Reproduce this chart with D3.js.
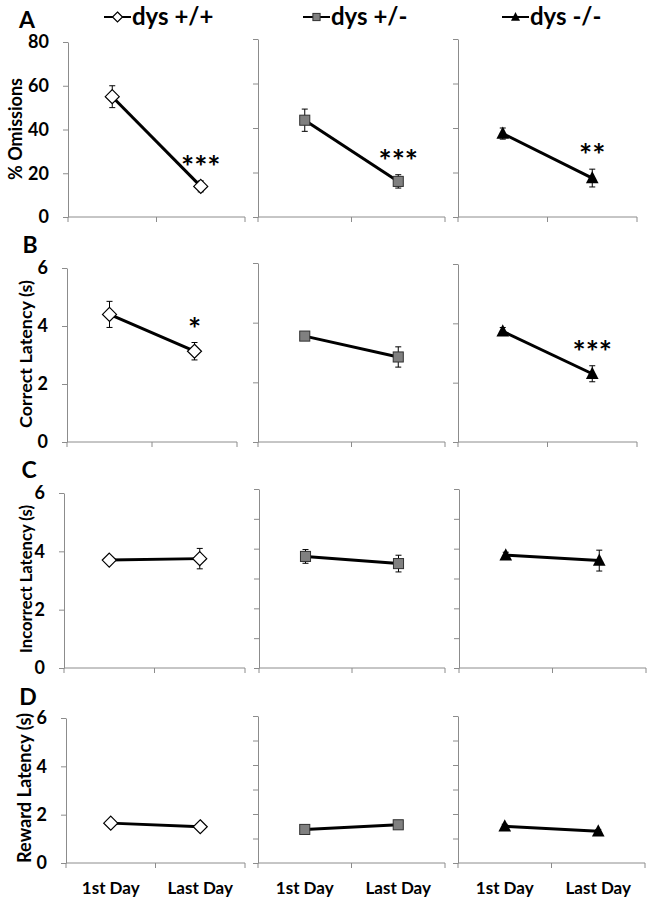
<!DOCTYPE html>
<html lang="en">
<head>
<meta charset="UTF-8">
<title>dys</title>
<script src="https://cdnjs.cloudflare.com/ajax/libs/d3/7.8.5/d3.min.js"></script>
<style>
    body { margin: 0; background: #fff; }
    svg text { font-family: Lato, "Open Sans", sans-serif; font-weight: bold; fill: #000; }
    .axis path, .axis line { stroke: #8c8c8c; stroke-width: 1; }
</style>
</head>
<body>
<div class="container"></div>
<script>
    const days = ['1st Day', 'Last Day'];
    const genotypes = ['dys +/+', 'dys +/-', 'dys -/-'];

    // means / SEM per genotype: [1st Day, Last Day]
    const omissionsMean = [[55, 14], [43.5, 16], [37.5, 17.5]];
    const omissionsErr = [[5, 2.5], [5, 3], [2.5, 4]];
    const correctMean = [[4.4, 3.13], [3.55, 2.85], [3.73, 2.3]];
    const correctErr = [[0.45, 0.3], [0.08, 0.34], [0.13, 0.27]];
    const incorrectMean = [[3.7, 3.75], [3.74, 3.5], [3.78, 3.6]];
    const incorrectErr = [[0.08, 0.35], [0.23, 0.28], [0.1, 0.35]];
    const rewardMean = [[1.65, 1.5], [1.37, 1.56], [1.5, 1.3]];
    const rewardErr = [[0.05, 0.05], [0.05, 0.05], [0.08, 0.07]];

    const sigOmissions = ['***', '***', '**'];
    const sigCorrect = ['*', '', '***'];

    const omissionTicks = [0, 20, 40, 60, 80];
    const latencyTicks = [0, 2, 4, 6];
    const latencyMinor = [0, 1, 2, 3, 4, 5, 6];

    const svg = d3.select('.container')
        .append('svg')
        .attr('width', 654)
        .attr('height', 906);

    // layout of the four stacked Excel charts
    const rows = [
        {mean: omissionsMean, err: omissionsErr, max: 80, labels: omissionTicks, minor: omissionTicks,
            title: '% Omissions', letter: 'A', sig: sigOmissions, bottom: 217,
            titleX: 15, titleY: 129, titleLen: 102, letterX: 27, letterY: 28,
            panels: [[68, 245, 42], [258, 445, 39], [458, 637, 39]]},
        {mean: correctMean, err: correctErr, max: 6, labels: latencyTicks, minor: latencyTicks,
            title: 'Correct Latency (s)', letter: 'B', sig: sigCorrect, bottom: 442,
            titleX: 25, titleY: 354, titleLen: 148, letterX: 30, letterY: 253,
            panels: [[67, 237, 268], [258, 445, 263], [458, 637, 264]]},
        {mean: incorrectMean, err: incorrectErr, max: 6, labels: latencyTicks, minor: latencyMinor,
            title: 'Incorrect Latency (s)', letter: 'C', sig: null, bottom: 668,
            titleX: 26, titleY: 579, titleLen: 148, letterX: 29, letterY: 478,
            panels: [[64, 245, 493], [259, 445, 489], [459, 646, 489]]},
        {mean: rewardMean, err: rewardErr, max: 6, labels: latencyTicks, minor: latencyMinor,
            title: 'Reward Latency (s)', letter: 'D', sig: null, bottom: 863,
            titleX: 24, titleY: 788, titleLen: 150, letterX: 28, letterY: 705,
            panels: [[66, 245, 718], [258, 445, 716], [458, 645, 716]]}
    ];

    function drawMarker(g, type, s) {
        if (type === 0) {
            g.append('path')
                .attr('d', `M0,${-s}L${s},0L0,${s}L${-s},0Z`)
                .attr('fill', '#fff')
                .attr('stroke', '#000')
                .attr('stroke-width', 1.2);
        } else if (type === 1) {
            g.append('rect')
                .attr('x', -s * 0.72).attr('y', -s * 0.72)
                .attr('width', s * 1.44).attr('height', s * 1.44)
                .attr('fill', '#808080')
                .attr('stroke', '#303030')
                .attr('stroke-width', 1);
        } else {
            g.append('path')
                .attr('d', `M0,${-s}L${s * 0.9},${s * 0.75}L${-s * 0.9},${s * 0.75}Z`)
                .attr('fill', '#000');
        }
    }

    rows.forEach(row => {
        svg.append('text')
            .attr('x', row.letterX)
            .attr('y', row.letterY)
            .attr('text-anchor', 'middle')
            .attr('font-size', 23)
            .text(row.letter);

        // size the rotated title so it spans the same length as in the figure
        const title = svg.append('text')
            .attr('transform', `translate(${row.titleX},${row.titleY}) rotate(-90)`)
            .attr('text-anchor', 'middle')
            .attr('dominant-baseline', 'central')
            .attr('font-size', 16)
            .text(row.title);
        const len = title.node().getComputedTextLength();
        title.attr('font-size', 16 * row.titleLen / len);

        row.panels.forEach((p, gi) => {
            const [x0, x1, top] = p;
            const y = d3.scaleLinear().domain([0, row.max]).range([row.bottom, top]);
            const x = d3.scaleBand().domain(days).range([x0, x1]);
            const g = svg.append('g');

            const yAxis = d3.axisLeft(y)
                .tickValues(gi === 0 ? row.labels : row.minor)
                .tickSize(5)
                .tickSizeOuter(0)
                .tickPadding(14)
                .tickFormat(gi === 0 ? d3.format('d') : '');
            const ya = g.append('g')
                .attr('class', 'axis')
                .attr('transform', `translate(${x0},0)`)
                .call(yAxis);
            ya.selectAll('text').attr('font-size', 18).style('font-family', 'Lato, sans-serif');

            const xa = g.append('g').attr('class', 'axis');
            xa.append('line')
                .attr('x1', x0).attr('x2', x1)
                .attr('y1', row.bottom).attr('y2', row.bottom);
            xa.selectAll('line.tick')
                .data(days.map(d => x(d)).concat([x1]))
                .enter()
                .append('line')
                .attr('class', 'tick')
                .attr('x1', d => d).attr('x2', d => d)
                .attr('y1', row.bottom).attr('y2', row.bottom + 5);

            const pts = days.map((d, i) => ({
                x: x(d) + x.bandwidth() / 2,
                m: row.mean[gi][i],
                e: row.err[gi][i]
            }));

            g.append('path')
                .attr('fill', 'none')
                .attr('stroke', '#000')
                .attr('stroke-width', 3)
                .attr('d', d3.line().x(d => d.x).y(d => y(d.m))(pts));

            const eb = g.selectAll('g.err')
                .data(pts)
                .enter()
                .append('g')
                .attr('class', 'err')
                .attr('stroke', '#000')
                .attr('stroke-width', 1);
            eb.append('line')
                .attr('x1', d => d.x).attr('x2', d => d.x)
                .attr('y1', d => y(d.m - d.e)).attr('y2', d => y(d.m + d.e));
            eb.append('line')
                .attr('x1', d => d.x - 3).attr('x2', d => d.x + 3)
                .attr('y1', d => y(d.m + d.e)).attr('y2', d => y(d.m + d.e));
            eb.append('line')
                .attr('x1', d => d.x - 3).attr('x2', d => d.x + 3)
                .attr('y1', d => y(d.m - d.e)).attr('y2', d => y(d.m - d.e));

            pts.forEach(d => {
                const mg = g.append('g').attr('transform', `translate(${d.x},${y(d.m)})`);
                drawMarker(mg, gi, 7);
            });

            if (row.sig && row.sig[gi]) {
                const last = pts[1];
                g.append('text')
                    .attr('x', last.x)
                    .attr('y', y(last.m + last.e) - 3)
                    .attr('text-anchor', 'middle')
                    .attr('font-size', 31)
                    .text(row.sig[gi]);
            }

            if (row.letter === 'D') {
                g.selectAll('text.day')
                    .data(pts)
                    .enter()
                    .append('text')
                    .attr('class', 'day')
                    .attr('x', d => d.x)
                    .attr('y', 894)
                    .attr('text-anchor', 'middle')
                    .attr('font-size', 17)
                    .text((d, i) => days[i]);
            }
        });
    });

    // legend across the top
    const legendX = [104, 303, 502];
    const legend = svg.selectAll('g.legend')
        .data(genotypes)
        .enter()
        .append('g')
        .attr('class', 'legend')
        .attr('transform', (d, i) => `translate(${legendX[i]},17)`);
    legend.append('line')
        .attr('x1', 0).attr('x2', 27)
        .attr('stroke', '#000')
        .attr('stroke-width', 2);
    legend.each(function (d, i) {
        const mg = d3.select(this).append('g').attr('transform', 'translate(13.5,0)');
        drawMarker(mg, i, 5);
    });
    legend.append('text')
        .attr('x', 28)
        .attr('y', 8)
        .attr('font-size', 24)
        .text(d => d);
</script>
</body>
</html>
